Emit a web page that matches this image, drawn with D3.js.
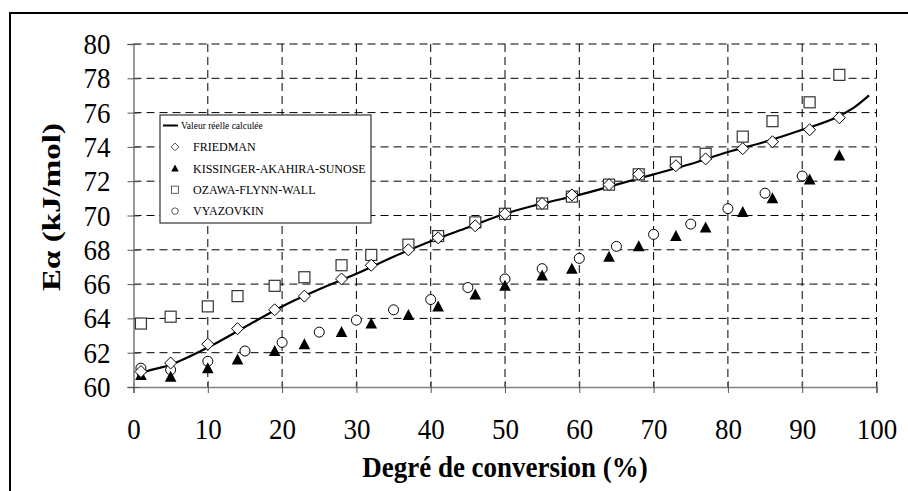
<!DOCTYPE html>
<html>
<head>
<meta charset="utf-8">
<script src="https://cdn.jsdelivr.net/npm/d3@7"></script>
<style>
  body { margin: 0; background: #fff; }
  svg { display: block; }
  text { font-family: "Liberation Serif", "Times New Roman", serif; }
</style>
</head>
<body>
<div id="chart"></div>
<script>

// curve "Valeur réelle calculée"
var curve_x = [0.5, 1, 5, 10, 15, 20, 25, 30, 35, 40, 45, 50, 55, 60, 65, 70, 75, 80, 85, 90, 95, 97, 99];
var curve_y = [60.7, 60.8, 61.3, 62.3, 63.5, 64.7, 65.7, 66.6, 67.6, 68.5, 69.3, 70.1, 70.7, 71.2, 71.8, 72.4, 73.0, 73.7, 74.3, 75.0, 75.8, 76.3, 77.0];

// x positions shared by FRIEDMAN / KAS / OFW
var method_x = [1, 5, 10, 14, 19, 23, 28, 32, 37, 41, 46, 50, 55, 59, 64, 68, 73, 77, 82, 86, 91, 95];
var friedman = [60.9, 61.4, 62.5, 63.4, 64.5, 65.3, 66.3, 67.1, 68.0, 68.7, 69.4, 70.1, 70.7, 71.2, 71.8, 72.4, 72.9, 73.3, 73.9, 74.3, 75.0, 75.7];
var kissinger = [60.7, 60.6, 61.1, 61.6, 62.1, 62.5, 63.2, 63.7, 64.2, 64.7, 65.4, 65.9, 66.5, 66.9, 67.6, 68.2, 68.8, 69.3, 70.2, 71.0, 72.1, 73.5];
var ozawa = [63.7, 64.1, 64.7, 65.3, 65.9, 66.4, 67.1, 67.7, 68.3, 68.8, 69.6, 70.1, 70.7, 71.1, 71.8, 72.4, 73.1, 73.6, 74.6, 75.5, 76.6, 78.2];

var vyazovkin_x = [1, 5, 10, 15, 20, 25, 30, 35, 40, 45, 50, 55, 60, 65, 70, 75, 80, 85, 90];
var vyazovkin = [61.1, 61.0, 61.5, 62.1, 62.6, 63.2, 63.9, 64.5, 65.1, 65.8, 66.3, 66.9, 67.5, 68.2, 68.9, 69.5, 70.4, 71.3, 72.3];

var x_ticks = [0, 10, 20, 30, 40, 50, 60, 70, 80, 90, 100];
var y_ticks = [60, 62, 64, 66, 68, 70, 72, 74, 76, 78, 80];

var legend_labels = ['Valeur réelle calculée', 'FRIEDMAN', 'KISSINGER-AKAHIRA-SUNOSE', 'OZAWA-FLYNN-WALL', 'VYAZOVKIN'];

var w = 908;
var h = 491;
var pl = 133.5, pr = 876.5, pt = 44, pb = 387;
var stretch = 1.1;   // tick text in the original is a little tall

var svg = d3.select('#chart')
    .append('svg')
    .attr('width', w)
    .attr('height', h);

// outer frame (runs past the right and bottom edges)
svg.append('rect')
    .attr('x', 10)
    .attr('y', 13)
    .attr('width', 920)
    .attr('height', 500)
    .attr('fill', 'none')
    .attr('stroke', '#000')
    .attr('stroke-width', 2);

var xScale = d3.scaleLinear().domain([0, 100]).range([pl, pr]);
var yScale = d3.scaleLinear().domain([60, 80]).range([pb, pt]);

// grid
svg.append('g')
    .selectAll('line')
    .data(y_ticks.slice(1))
    .enter()
    .append('line')
    .attr('x1', pl)
    .attr('x2', pr)
    .attr('y1', function(d) { return yScale(d); })
    .attr('y2', function(d) { return yScale(d); })
    .attr('stroke', '#000')
    .attr('stroke-width', 1)
    .attr('stroke-dasharray', '8,5');

svg.append('g')
    .selectAll('line')
    .data(x_ticks.slice(1))
    .enter()
    .append('line')
    .attr('x1', function(d) { return xScale(d); })
    .attr('x2', function(d) { return xScale(d); })
    .attr('y1', pt)
    .attr('y2', pb)
    .attr('stroke', '#000')
    .attr('stroke-width', 1)
    .attr('stroke-dasharray', '8,5');

// axes, ticks crossing the axis line
var xAxis = d3.axisBottom(xScale).tickValues(x_ticks).tickSize(6).tickPadding(22);
var yAxis = d3.axisLeft(yScale).tickValues(y_ticks).tickSize(6).tickPadding(17);

var gx = svg.append('g')
    .attr('transform', 'translate(0,' + pb + ')')
    .call(xAxis);
var gy = svg.append('g')
    .attr('transform', 'translate(' + pl + ',0)')
    .call(yAxis);

[gx, gy].forEach(function(g) {
    g.select('.domain').attr('stroke', '#808080').attr('stroke-width', 1.6);
    g.selectAll('.tick line').attr('stroke', '#555').attr('stroke-width', 1);
    g.selectAll('.tick text')
        .attr('font-family', 'Liberation Serif, serif')
        .attr('font-size', 27)
        .attr('fill', '#000')
        .attr('transform', 'scale(1,' + stretch + ')');
});
gx.selectAll('.tick line').attr('y1', -6);
gy.selectAll('.tick line').attr('x1', 6);

// curve
var curve_data = curve_x.map(function(d, i) { return [d, curve_y[i]]; });
svg.append('path')
    .datum(curve_data)
    .attr('fill', 'none')
    .attr('stroke', '#000')
    .attr('stroke-width', 2.2)
    .attr('d', d3.line()
        .x(function(d) { return xScale(d[0]); })
        .y(function(d) { return yScale(d[1]); })
        .curve(d3.curveMonotoneX));

function pairs(xs, ys) {
    return xs.map(function(d, i) { return [d, ys[i]]; });
}

function draw_marker(g, kind, x, y) {
    if (kind == 'square') {
        g.append('rect')
            .attr('x', x - 5.5).attr('y', y - 5.5)
            .attr('width', 11).attr('height', 11)
            .attr('fill', '#fff').attr('stroke', '#333').attr('stroke-width', 1.2);
    }
    if (kind == 'circle') {
        g.append('circle')
            .attr('cx', x).attr('cy', y).attr('r', 5)
            .attr('fill', '#fff').attr('stroke', '#000').attr('stroke-width', 1);
    }
    if (kind == 'triangle') {
        g.append('path')
            .attr('d', 'M' + x + ',' + (y - 6) + 'L' + (x + 5.8) + ',' + (y + 5) + 'L' + (x - 5.8) + ',' + (y + 5) + 'Z')
            .attr('fill', '#000');
    }
    if (kind == 'diamond') {
        g.append('path')
            .attr('d', 'M' + x + ',' + (y - 6) + 'L' + (x + 6) + ',' + y + 'L' + x + ',' + (y + 6) + 'L' + (x - 6) + ',' + y + 'Z')
            .attr('fill', '#fff').attr('stroke', '#000').attr('stroke-width', 1);
    }
}

var series = [
    ['square', pairs(method_x, ozawa)],
    ['circle', pairs(vyazovkin_x, vyazovkin)],
    ['triangle', pairs(method_x, kissinger)],
    ['diamond', pairs(method_x, friedman)]
];

series.forEach(function(s) {
    var g = svg.append('g');
    s[1].forEach(function(d) {
        draw_marker(g, s[0], xScale(d[0]), yScale(d[1]));
    });
});

// legend
var lg = svg.append('g').attr('transform', 'translate(160,115)');
lg.append('rect')
    .attr('x', 0).attr('y', 0)
    .attr('width', 211).attr('height', 108)
    .attr('fill', '#fff').attr('stroke', '#333').attr('stroke-width', 1.2);

legend_labels.forEach(function(label, i) {
    var yy = 10.5 + i * 21.4;
    if (i == 0) {
        lg.append('line')
            .attr('x1', 3).attr('x2', 18)
            .attr('y1', yy).attr('y2', yy)
            .attr('stroke', '#000').attr('stroke-width', 2);
        lg.append('text')
            .attr('x', 21)
            .attr('y', yy + 3.5)
            .attr('font-family', 'Liberation Sans, Arial, sans-serif')
            .attr('font-size', 9.5)
            .text(label);
    } else {
        var g = lg.append('g').attr('transform', 'translate(15,' + yy + ') scale(0.65)');
        draw_marker(g, ['diamond', 'triangle', 'square', 'circle'][i - 1], 0, 0);
        lg.append('text')
            .attr('x', 33)
            .attr('y', yy + 4.2)
            .attr('font-size', 12)
            .text(label);
    }
});

// axis titles
svg.append('text')
    .attr('transform', 'translate(' + ((pl + pr) / 2) + ',477) scale(1,1.1)')
    .attr('text-anchor', 'middle')
    .attr('font-weight', 'bold')
    .attr('font-size', 27)
    .text('Degré de conversion (%)');

svg.append('text')
    .attr('transform', 'translate(60,207) rotate(-90)')
    .attr('text-anchor', 'middle')
    .attr('font-weight', 'bold')
    .attr('font-size', 25)
    .attr('textLength', 168)
    .attr('lengthAdjust', 'spacingAndGlyphs')
    .text('Eα (kJ/mol)');

</script>
</body>
</html>
